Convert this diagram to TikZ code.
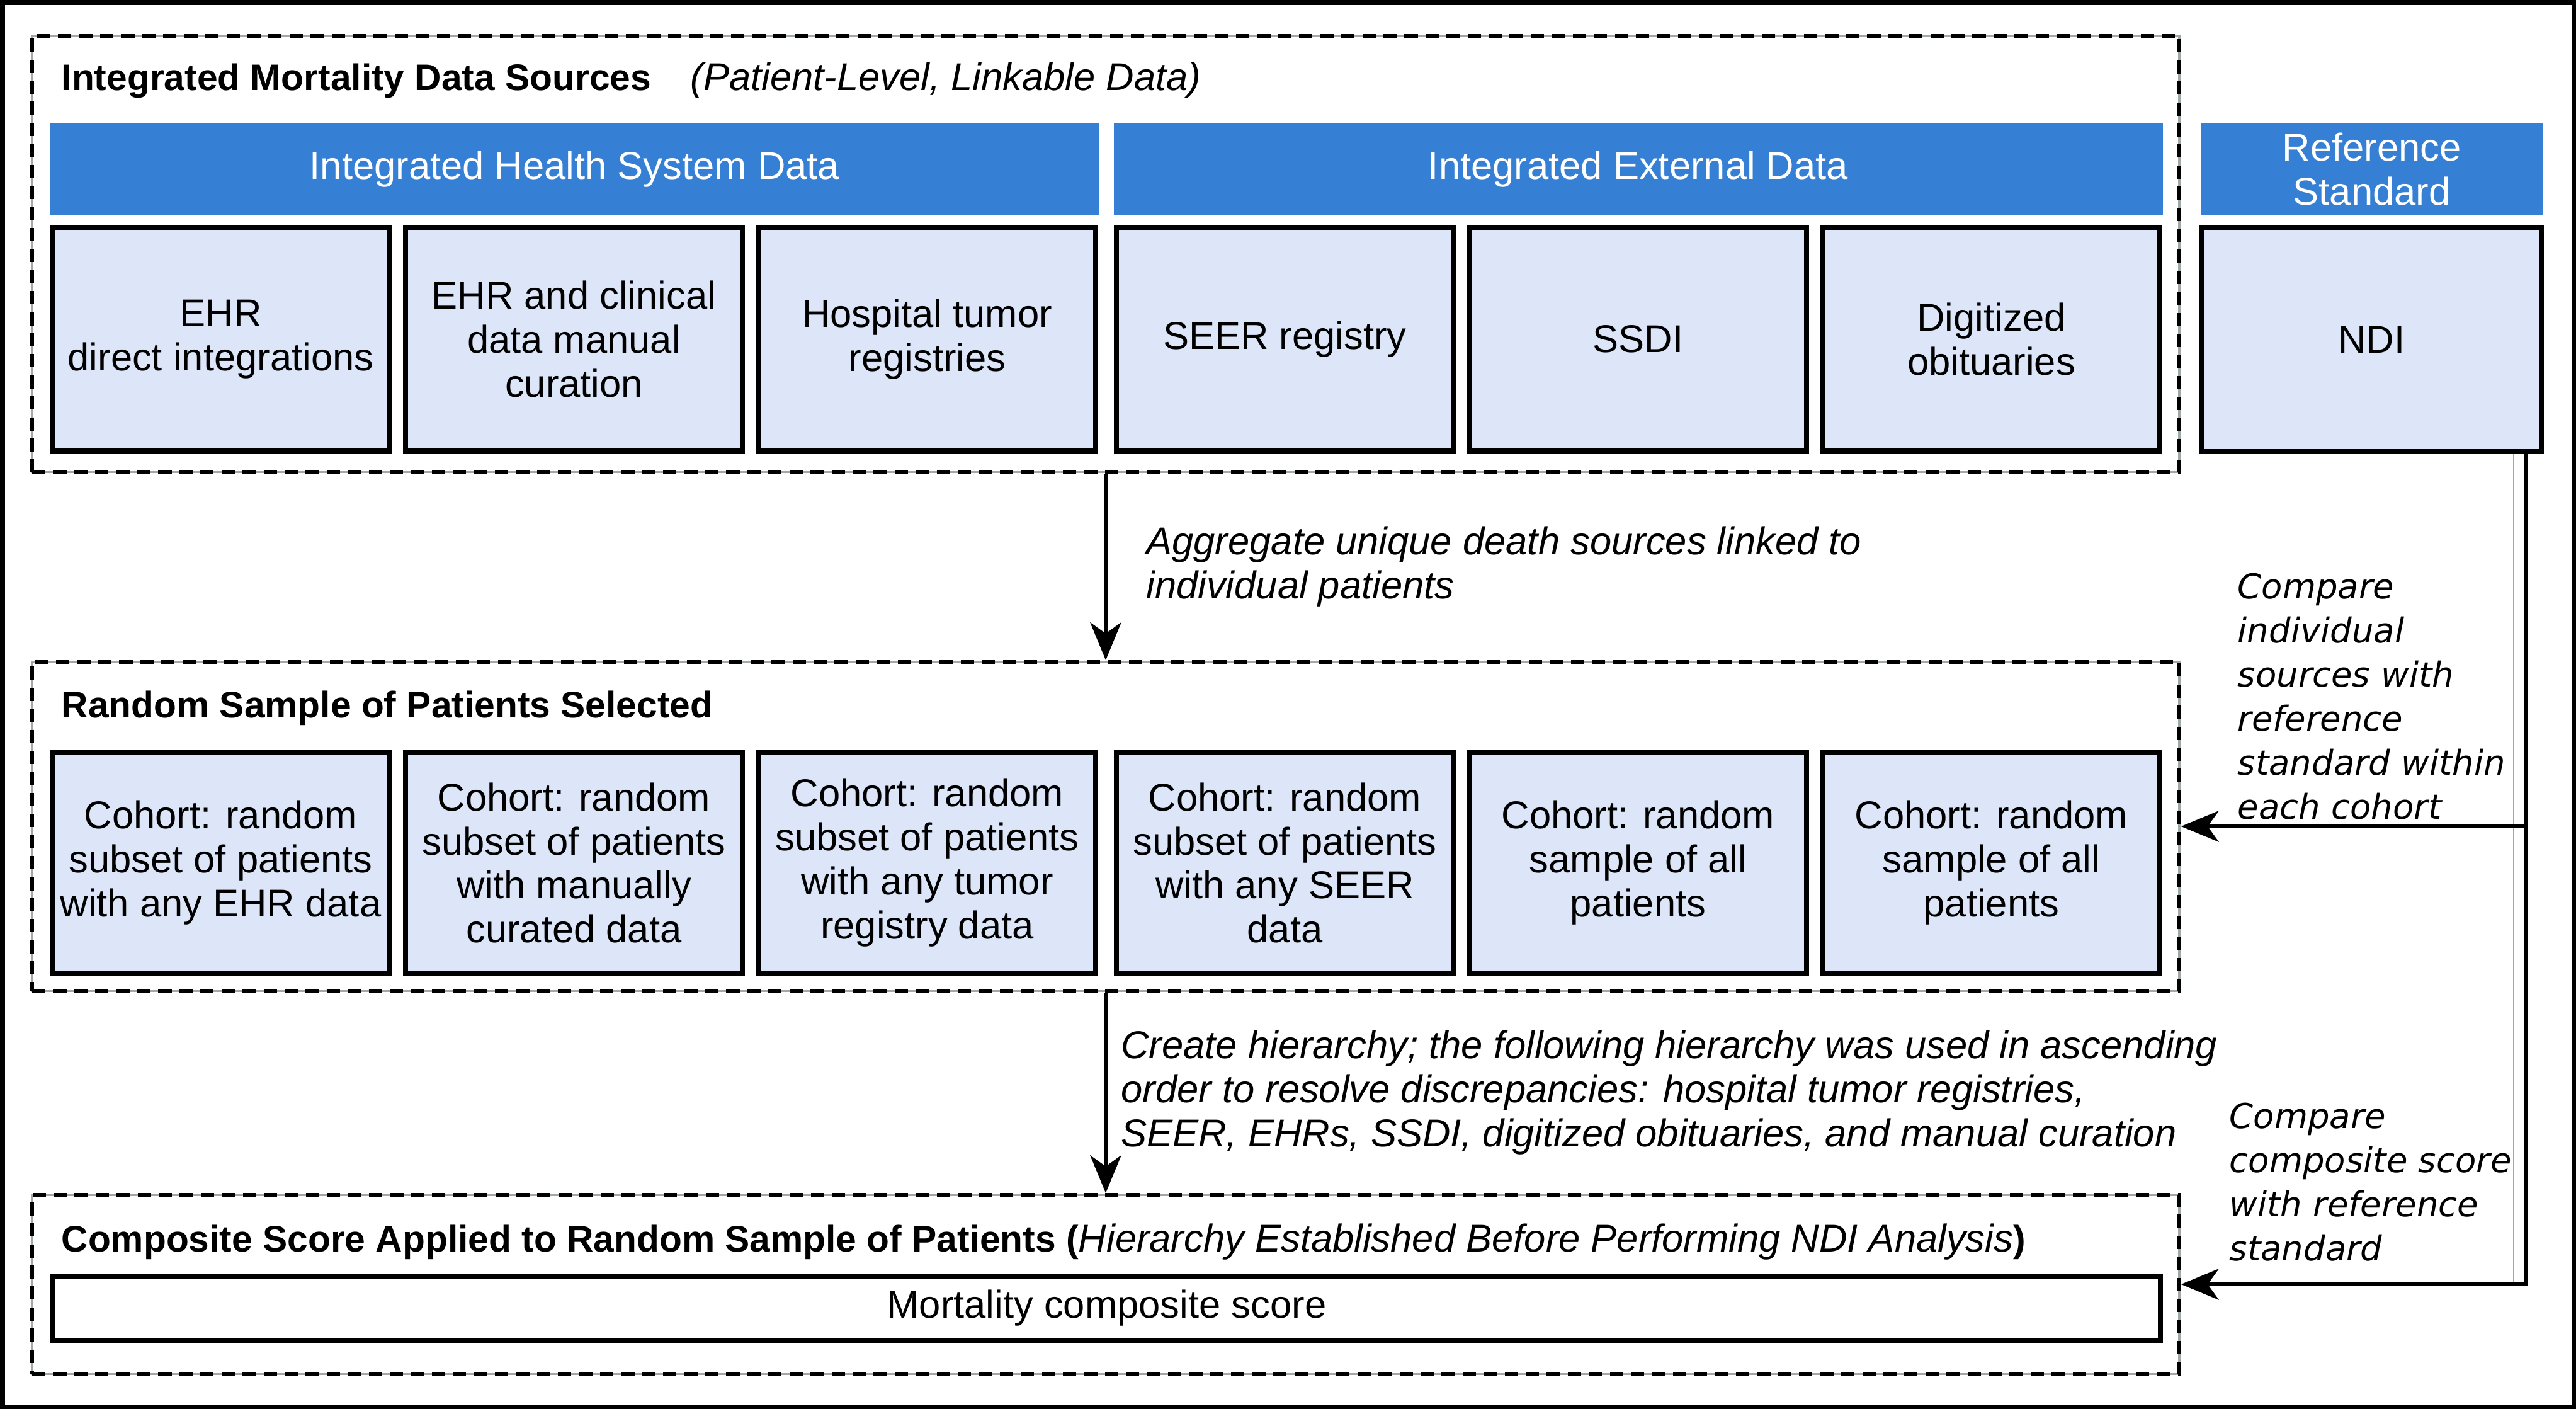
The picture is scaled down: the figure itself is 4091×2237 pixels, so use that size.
\documentclass[tikz,border=0pt]{standalone}
\usepackage{fontspec}
\setmainfont{Liberation Sans}
\newfontfamily\notefont{DejaVu Sans}
\usetikzlibrary{arrows.meta}
\definecolor{hdrblue}{RGB}{53,128,212}
\definecolor{cellblue}{RGB}{220,230,248}
\definecolor{dashgray}{RGB}{160,168,168}
\newcommand{\bodysize}{\fontsize{17.5}{19.9}\selectfont}
\newcommand{\notesize}{\notefont\itshape\fontsize{15.5}{19.9}\selectfont}
\newcommand{\ttl}[1]{{\fontsize{16.7}{19.9}\selectfont\bfseries #1}}

\tikzset{
  cell/.style={draw=black, line width=2.3pt, fill=cellblue, align=center, inner sep=0pt, minimum width=5.35cm},
  hdr/.style={fill=hdrblue, text=white, align=center, inner sep=0pt, minimum height=1.46cm},
  group/.style={draw=black, line width=1.6pt, dash pattern=on 6pt off 3.5pt,
    preaction={draw=dashgray, line width=0.9pt, solid}, minimum width=34.08cm, inner sep=0pt},
  arr/.style={-{Stealth[length=17pt,width=14pt,inset=5pt]}, line width=1.5pt},
  title/.style={anchor=west, inner sep=0pt}
}

\begin{document}
\begin{tikzpicture}[x=0.01cm, y=-0.01cm, font=\bodysize]
\useasboundingbox (0,0) rectangle (4091,2237);
\draw[line width=2pt] (4,4) rectangle (4087,2233);

% the three stages
\node[group, minimum height=6.92cm] (src) at (1756,403) {};
\node[group, minimum height=5.22cm] (smp) at (1756,1312) {};
\node[group, minimum height=2.84cm] (cmp) at (1756,2039) {};

\node[title] (srct) at (97,128) {\ttl{Integrated Mortality Data Sources}};
\node[title] (srcn) at (1096,128) {\textit{(Patient-Level, Linkable Data)}};
\node[title] (smpt) at (97,1124) {\ttl{Random Sample of Patients Selected}};
\node[title] (cmpt) at (97,1972) {\ttl{Composite Score Applied to Random Sample of Patients (}\textit{Hierarchy Established Before Performing NDI Analysis}\ttl{)}};

\node[hdr, minimum width=16.65cm] (hsys) at (912.5,269) {Integrated Health System Data};
\node[hdr, minimum width=16.65cm] (hext) at (2601.5,269) {Integrated External Data};
\node[hdr, minimum width=5.43cm] (href) at (3766.5,269) {Reference\\Standard};

\node[cell, minimum height=3.55cm] (ehr) at (350.5,538.5) {EHR\\direct integrations};
\node[cell, minimum height=3.55cm] (man) at (911.5,538.5) {EHR and clinical\\data manual\\curation};
\node[cell, minimum height=3.55cm] (tum) at (1472.5,538.5) {Hospital tumor\\registries};
\node[cell, minimum height=3.55cm] (seer) at (2040.5,538.5) {SEER registry};
\node[cell, minimum height=3.55cm] (ssdi) at (2601.5,538.5) {SSDI};
\node[cell, minimum height=3.55cm] (obit) at (3162.5,538.5) {Digitized\\obituaries};
\node[cell, minimum height=3.55cm, minimum width=5.39cm] (ndi) at (3766.5,539) {NDI};

\node[cell, minimum height=3.52cm] (c1) at (350.5,1370) {Cohort: random\\subset of patients\\with any EHR data};
\node[cell, minimum height=3.52cm] (c2) at (911.5,1370) {Cohort: random\\subset of patients\\with manually\\curated data};
\node[cell, minimum height=3.52cm] (c3) at (1472.5,1370) {Cohort: random\\subset of patients\\with any tumor\\registry data};
\node[cell, minimum height=3.52cm] (c4) at (2040.5,1370) {Cohort: random\\subset of patients\\with any SEER\\data};
\node[cell, minimum height=3.52cm] (c5) at (2601.5,1370) {Cohort: random\\sample of all\\patients};
\node[cell, minimum height=3.52cm] (c6) at (3162.5,1370) {Cohort: random\\sample of all\\patients};

\node[cell, fill=white, minimum width=33.45cm, minimum height=1.02cm] (score) at (1757.5,2077) {Mortality composite score};

\draw[arr] (src.south) to node [right=0.5cm, align=left] {\textit{Aggregate unique death sources linked to}\\\textit{individual patients}} (smp.north);
\draw[arr] (smp.south) to node [right=0.1cm, align=left] {\textit{Create hierarchy; the following hierarchy was used in ascending}\\\textit{order to resolve discrepancies: hospital tumor registries,}\\\textit{SEER, EHRs, SSDI, digitized obituaries, and manual curation}} (cmp.north);

% comparison with the reference standard
\path (ndi.south) ++(245.5,0) coordinate (tap);
\path (ndi.south) ++(225.5,0) coordinate (tapg);
\draw[dashgray, line width=0.8pt] (tapg) -- (tapg |- cmp.east);
\draw[arr] (tap) |- (smp.east);
\draw[arr] (tap) |- (cmp.east);
\node[anchor=west, align=left, inner sep=0pt, font=\notesize] (cmpi) at (3553,1106) {Compare\\individual\\sources with\\reference\\standard within\\each cohort};
\node[anchor=west, align=left, inner sep=0pt, font=\notesize] (cmps) at (3540,1877) {Compare\\composite score\\with reference\\standard};
\end{tikzpicture}
\end{document}
